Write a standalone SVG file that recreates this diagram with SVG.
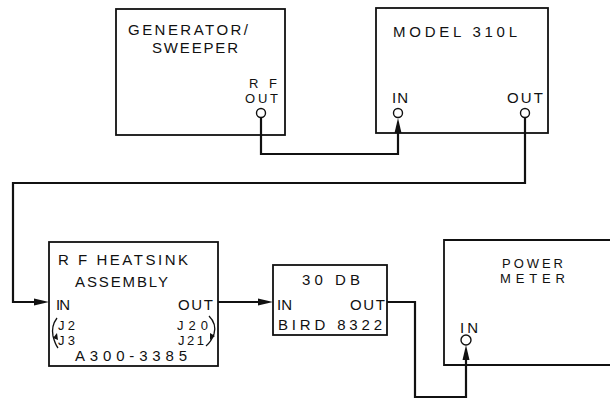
<svg xmlns="http://www.w3.org/2000/svg" width="610" height="400" viewBox="0 0 610 400">
<style>
.box{fill:none;stroke:#111;stroke-width:1.8}
.t{font-family:"Liberation Sans",Arial,sans-serif;font-size:15px;fill:#111}
.s{font-size:13px}
.w{fill:none;stroke:#111;stroke-width:2.2}
.jack{fill:#fff;stroke:#111;stroke-width:1.4}
.ah{fill:#111}
.br{fill:none;stroke:#111;stroke-width:1.3}
</style>
<rect width="610" height="400" fill="#fff"/>
<g id="connectors">
<polyline class="w" points="261,118 261,154 398,154 398,128"/>
<polygon class="ah" points="398,118 394.5,133 401.5,133"/>
<polyline class="w" points="525,118 525,183 13,183 13,302 38,302"/>
<polygon class="ah" points="49,302 34,298.5 34,305.5"/>
<polyline class="w" points="218,302 262,302"/>
<polygon class="ah" points="273,302 258,298.5 258,305.5"/>
<polyline class="w" points="387,302 415,302 415,397 466,397 466,356"/>
<polygon class="ah" points="466,345 462.5,360 469.5,360"/>
</g>
<g id="generator">
<rect class="box" x="116" y="9" width="169" height="126"/>
<text class="t" x="128" y="35" textLength="120" lengthAdjust="spacing">GENERATOR/</text>
<text class="t" x="152" y="53" textLength="86" lengthAdjust="spacing">SWEEPER</text>
<text class="t s" x="249" y="88" textLength="28" lengthAdjust="spacing">RF</text>
<text class="t s" x="245" y="103" textLength="33" lengthAdjust="spacing">OUT</text>
<circle class="jack" cx="261" cy="113" r="4.5"/>
</g>
<g id="model310l">
<rect class="box" x="376" y="8" width="172" height="125"/>
<text class="t" x="393" y="37" textLength="124" lengthAdjust="spacing">MODEL 310L</text>
<text class="t" x="392" y="103" textLength="16" lengthAdjust="spacing">IN</text>
<text class="t" x="507" y="103" textLength="36" lengthAdjust="spacing">OUT</text>
<circle class="jack" cx="398" cy="113" r="4.5"/>
<circle class="jack" cx="525" cy="113" r="4.5"/>
</g>
<g id="heatsink">
<rect class="box" x="49" y="242" width="169" height="124"/>
<text class="t" x="58" y="265" textLength="130" lengthAdjust="spacing">R F HEATSINK</text>
<text class="t" x="75" y="287" textLength="93" lengthAdjust="spacing">ASSEMBLY</text>
<text class="t" x="56" y="310" textLength="14" lengthAdjust="spacing">IN</text>
<text class="t" x="178" y="310" textLength="35" lengthAdjust="spacing">OUT</text>
<text class="t s" x="58" y="330" textLength="17" lengthAdjust="spacing">J2</text>
<text class="t s" x="58" y="345" textLength="17" lengthAdjust="spacing">J3</text>
<text class="t s" x="177" y="330" textLength="31" lengthAdjust="spacing">J20</text>
<text class="t s" x="178" y="345" textLength="26" lengthAdjust="spacing">J21</text>
<text class="t" x="75" y="361" textLength="112" lengthAdjust="spacing">A300-3385</text>
<path class="br" d="M57,318 Q51,326 53,336 Q55,344 58,348"/>
<polygon class="ah" points="53,338 57,333 58,340"/>
<path class="br" d="M209,316 Q217,324 214,334 Q211,342 206,346"/>
<polygon class="ah" points="215,336 210,333 210,340"/>
</g>
<g id="attenuator">
<rect class="box" x="273" y="265" width="114" height="70"/>
<text class="t" x="302" y="285" textLength="58" lengthAdjust="spacing">30 DB</text>
<text class="t" x="277" y="310" textLength="15" lengthAdjust="spacing">IN</text>
<text class="t" x="350" y="310" textLength="35" lengthAdjust="spacing">OUT</text>
<text class="t" x="278" y="330" textLength="104" lengthAdjust="spacing">BIRD 8322</text>
</g>
<g id="powermeter">
<polyline class="box" points="612,240 444,240 444,365 612,365"/>
<text class="t s" x="502" y="268" textLength="61" lengthAdjust="spacing">POWER</text>
<text class="t s" x="500" y="283" textLength="65" lengthAdjust="spacing">METER</text>
<text class="t" x="460" y="333" textLength="18" lengthAdjust="spacing">IN</text>
<circle class="jack" cx="466" cy="340" r="5"/>
</g>
</svg>
